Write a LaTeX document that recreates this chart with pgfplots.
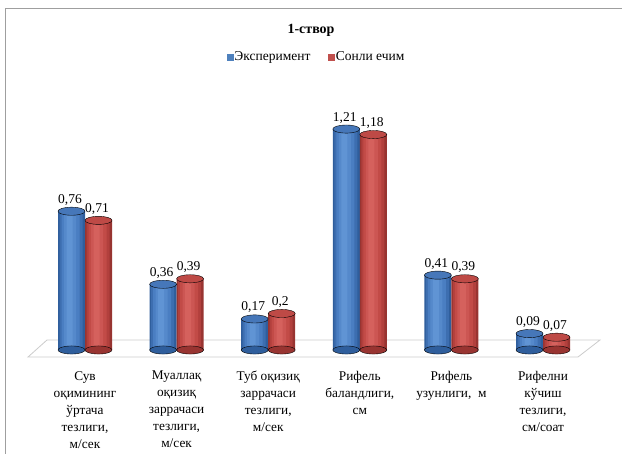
\documentclass[border=0pt]{standalone}
\usepackage{fontspec}
\setmainfont{Liberation Serif}
\usepackage{pgfplots}
\usepackage{pgfplotstable}
\pgfplotsset{compat=1.18}

% cylinder strips, edge -> centre
\definecolor{bA}{HTML}{2F5E9C}
\definecolor{bB}{HTML}{3D6EB0}
\definecolor{bC}{HTML}{4A7EC2}
\definecolor{bD}{HTML}{5589CB}
\definecolor{bE}{HTML}{6094D4}
\definecolor{btop}{HTML}{4677B9}
\definecolor{rA}{HTML}{983431}
\definecolor{rB}{HTML}{B2403D}
\definecolor{rC}{HTML}{C24B47}
\definecolor{rD}{HTML}{CC5653}
\definecolor{rE}{HTML}{D5615D}
\definecolor{rtop}{HTML}{BE4A46}
\definecolor{blueleg}{HTML}{4F81BD}
\definecolor{redleg}{HTML}{C0504D}

% x: category index, exp: Эксперимент, sim: Сонли ечим, base: floor
\pgfplotstableread{
x exp  sim  base
0 0.76 0.71 0
1 0.36 0.39 0
2 0.17 0.20 0
3 1.21 1.18 0
4 0.41 0.39 0
5 0.09 0.07 0
}\datatable

\pgfplotsset{
  strip/.style n args={3}{forget plot, ybar, bar width=#1, bar shift=#2,
    draw=none, fill=#3},
  vlabel/.style={nodes near coords,
    every node near coord/.append style={anchor=base, xshift=#1, yshift=8pt,
      inner sep=0pt, font=\fontsize{13.5}{15}\selectfont, text=black}},
}

\begin{document}
\begin{tikzpicture}[x=1pt,y=1pt]
\path[use as bounding box] (0,0) rectangle (622,454);
% chart frame
\draw[gray!75, line width=0.9pt] (5.5,-2) -- (5.5,445.5) -- (624,445.5);
\node[font=\bfseries\fontsize{14}{16}\selectfont] at (311,424) {1-створ};
% floor
\filldraw[fill=white, draw=gray!40, line width=0.8pt] (28,97) -- (578,97) -- (600,114) -- (47,114) -- cycle;

\begin{axis}[
  at={(85pt,104pt)}, anchor=origin,
  x=91.6pt, y=182.6pt,
  xmin=-0.5, xmax=5.5, ymin=0, ymax=1.35,
  clip=false,
  axis line style={draw=none},
  tick style={draw=none},
  ytick=\empty,
  xtick={0,...,5},
  xticklabels={
    {Сув\\оқимининг\\ўртача\\тезлиги,\\м/сек},
    {Муаллақ\\оқизиқ\\заррачаси\\тезлиги,\\м/сек},
    {Туб оқизиқ\\заррачаси\\тезлиги,\\м/сек},
    {Рифель\\баландлиги,\\см},
    {Рифель\\узунлиги,~~м},
    {Рифелни\\кўчиш\\тезлиги,\\см/соат}},
  xticklabel style={align=center, anchor=north, yshift=-21pt, inner sep=0pt,
    font=\fontsize{13.3}{17}\selectfont},
  /pgf/number format/fixed,
  /pgf/number format/precision=2,
  /pgf/number format/use comma,
  /pgf/number format/assume math mode=true,
  legend style={at={(axis description cs:0.504,1.189)}, anchor=center,
    draw=none, font=\fontsize{13.5}{15}\selectfont, legend columns=2,
    nodes={inner xsep=1.5pt},
    /tikz/every even column/.append style={column sep=16pt}},
]
% legend
\addlegendimage{legend image code/.code={\fill[blueleg] (0pt,-3pt) rectangle (6pt,3pt);}}
\addlegendentry{Эксперимент}
\addlegendimage{legend image code/.code={\fill[redleg] (0pt,-3pt) rectangle (6pt,3pt);}}
\addlegendentry{Сонли ечим}

% Эксперимент cylinders
\addplot[forget plot, only marks, mark=*, mark size=13.5pt,
  mark options={xshift=-13.5pt, yscale=0.3, fill=bA, draw=none}]
  table[x=x, y=base] {\datatable};
\addplot[strip={27pt}{-13.5pt}{bA}] table[x=x, y=exp] {\datatable};
\addplot[strip={23pt}{-14pt}{bB}] table[x=x, y=exp] {\datatable};
\addplot[strip={18pt}{-14.5pt}{bC}] table[x=x, y=exp] {\datatable};
\addplot[strip={12pt}{-15pt}{bD}] table[x=x, y=exp] {\datatable};
\addplot[strip={6pt}{-15.5pt}{bE}, vlabel=-15pt] table[x=x, y=exp] {\datatable};
\addplot[forget plot, only marks, mark=*, mark size=13.5pt,
  mark options={xshift=-13.5pt, yscale=0.3, fill=btop, draw=none}]
  table[x=x, y=exp] {\datatable};

% Сонли ечим cylinders
\addplot[forget plot, only marks, mark=*, mark size=13.5pt,
  mark options={xshift=13.5pt, yscale=0.3, fill=rA, draw=none}]
  table[x=x, y=base] {\datatable};
\addplot[strip={27pt}{13.5pt}{rA}] table[x=x, y=sim] {\datatable};
\addplot[strip={23pt}{13pt}{rB}] table[x=x, y=sim] {\datatable};
\addplot[strip={18pt}{12.5pt}{rC}] table[x=x, y=sim] {\datatable};
\addplot[strip={12pt}{12pt}{rD}] table[x=x, y=sim] {\datatable};
\addplot[strip={6pt}{11.5pt}{rE}, vlabel=12pt] table[x=x, y=sim] {\datatable};
\addplot[forget plot, only marks, mark=*, mark size=13.5pt,
  mark options={xshift=13.5pt, yscale=0.3, fill=rtop, draw=none}]
  table[x=x, y=sim] {\datatable};
\end{axis}
\end{tikzpicture}
\end{document}
